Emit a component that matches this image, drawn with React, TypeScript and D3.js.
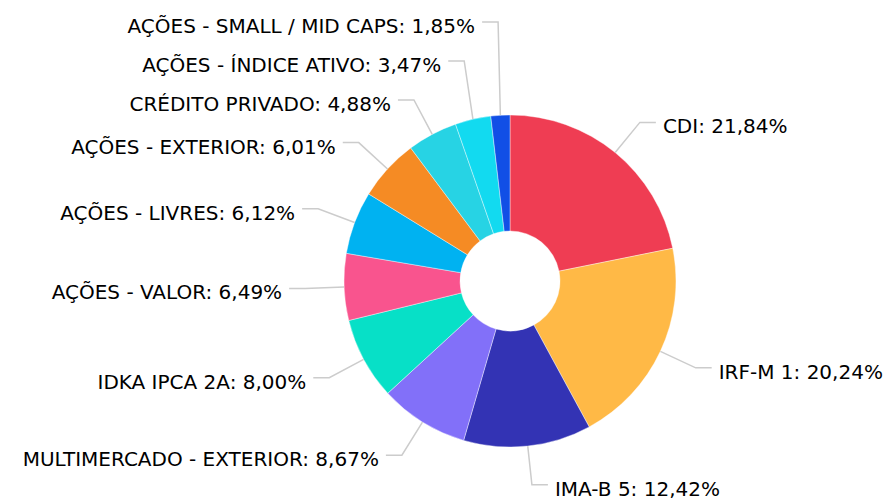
import React from "react";
import * as d3 from "d3";

const categories = [
  "CDI",
  "IRF-M 1",
  "IMA-B 5",
  "MULTIMERCADO - EXTERIOR",
  "IDKA IPCA 2A",
  "AÇÕES - VALOR",
  "AÇÕES - LIVRES",
  "AÇÕES - EXTERIOR",
  "CRÉDITO PRIVADO",
  "AÇÕES - ÍNDICE ATIVO",
  "AÇÕES - SMALL / MID CAPS",
];
const values = [21.84, 20.24, 12.42, 8.67, 8.0, 6.49, 6.12, 6.01, 4.88, 3.47, 1.85];
const colors = [
  "#EF3D53",
  "#FFB946",
  "#3333B4",
  "#8270F9",
  "#07E0C7",
  "#F9548E",
  "#00B2F1",
  "#F58B24",
  "#27D3E4",
  "#12DAF0",
  "#114FE6",
];

const W = 891;
const H = 503;
const cx = 510;
const cy = 281;
const R = 166;
const r0 = 50;
const labelR = 205;
const hSeg = 16;
const textGap = 7;
const minGap = 39;

const fmt = (v: number) => v.toFixed(2).replace(".", ",") + "%";

export default function App() {
  const pie = d3.pie<number>().sort(null).value((d) => d);
  const arcs = pie(values);
  const arc = d3.arc<d3.PieArcDatum<number>>().innerRadius(r0).outerRadius(R);

  type L = {
    i: number;
    mid: number;
    side: number;
    sx: number;
    sy: number;
    bx: number;
    by: number;
  };
  const labels: L[] = arcs.map((a, i) => {
    const mid = (a.startAngle + a.endAngle) / 2;
    const side = Math.sin(mid) >= 0 ? 1 : -1;
    return {
      i,
      mid,
      side,
      sx: cx + R * Math.sin(mid),
      sy: cy - R * Math.cos(mid),
      bx: cx + labelR * Math.sin(mid),
      by: cy - labelR * Math.cos(mid),
    };
  });

  // collision avoidance: per side, push upward from the bottom
  [1, -1].forEach((s) => {
    const group = labels.filter((l) => l.side === s).sort((a, b) => b.by - a.by);
    for (let k = 1; k < group.length; k++) {
      const prev = group[k - 1];
      if (group[k].by > prev.by - minGap) group[k].by = prev.by - minGap;
    }
  });

  return (
    <svg
      width={W}
      height={H}
      style={{ position: "absolute", left: 0, top: 0, background: "#fff" }}
    >
      <g transform={`translate(${cx},${cy})`}>
        {arcs.map((a, i) => (
          <path
            key={i}
            d={arc(a) || ""}
            fill={colors[i]}
            stroke="#fff"
            strokeWidth={0.4}
          />
        ))}
      </g>
      {labels.map((l) => {
        const ex = l.bx + l.side * hSeg;
        return (
          <g key={l.i}>
            <polyline
              points={`${l.sx},${l.sy} ${l.bx},${l.by} ${ex},${l.by}`}
              fill="none"
              stroke="#cccccc"
              strokeWidth={1.5}
            />
            <text
              x={ex + l.side * textGap}
              y={l.by + 4}
              textAnchor={l.side > 0 ? "start" : "end"}
              dominantBaseline="central"
              fontFamily="'DejaVu Sans', Verdana, sans-serif"
              fontSize={20}
              fill="#000"
            >
              {categories[l.i] + ": " + fmt(values[l.i])}
            </text>
          </g>
        );
      })}
    </svg>
  );
}
